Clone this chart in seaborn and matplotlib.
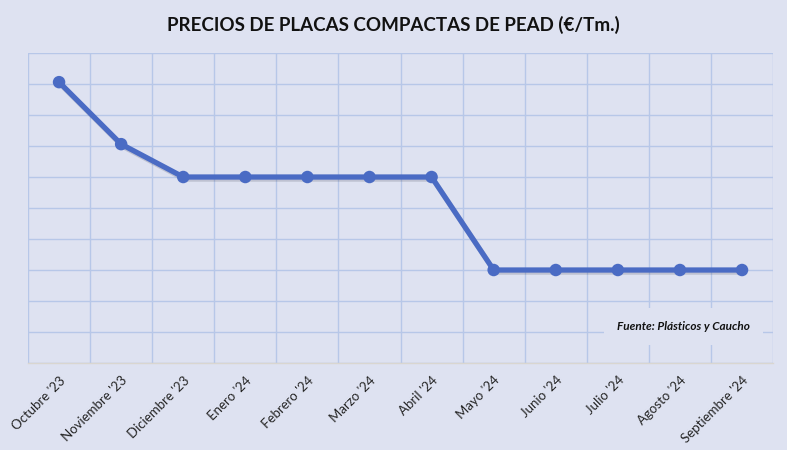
import matplotlib
matplotlib.use("Agg")
import matplotlib.pyplot as plt
import matplotlib.patheffects as pe
import numpy as np
import pandas as pd
import seaborn as sns

# data (no y labels shown, scale is estimated)
meses = ["Octubre '23", "Noviembre '23", "Diciembre '23", "Enero '24", "Febrero '24",
         "Marzo '24", "Abril '24", "Mayo '24", "Junio '24", "Julio '24",
         "Agosto '24", "Septiembre '24"]
precios = [2453, 2353, 2300, 2300, 2300, 2300, 2300, 2150, 2150, 2150, 2150, 2150]

df = pd.DataFrame({"mes": meses, "precio": precios, "pos": np.arange(len(meses))})

bg = "#dee2f1"
grid_c = "#b7c7e8"
line_c = "#4a6bc4"

sns.set_style("white")
plt.rcParams["font.family"] = ["Lato", "DejaVu Sans"]

fig = plt.figure(figsize=(7.87, 4.5), dpi=100, facecolor=bg)
ax = fig.add_axes([0.0356, 0.1933, 0.9467, 0.6889])
ax.set_facecolor(bg)

sns.lineplot(data=df, x="pos", y="precio", ax=ax, color=line_c, linewidth=3.8,
             marker="o", markersize=9, markeredgewidth=0, zorder=3,
             path_effects=[pe.SimpleLineShadow(offset=(1, -1.5), alpha=0.18, shadow_color="#303040"),
                           pe.Normal()])

ax.set_xlim(-0.5, len(meses) - 0.5)
ax.set_ylim(2000, 2500)
ax.set_yticks(np.arange(2000, 2501, 50))
ax.set_yticklabels([])
ax.set_xticks(df["pos"])
ax.set_xticklabels(meses, rotation=45, ha="right", rotation_mode="anchor", fontsize=9.5)
ax.set_xticks(np.arange(-0.5, len(meses), 1), minor=True)
ax.tick_params(axis="both", which="both", length=0)
ax.tick_params(axis="x", which="major", pad=8)
ax.grid(axis="y", which="major", color=grid_c, linewidth=1)
ax.grid(axis="x", which="minor", color=grid_c, linewidth=1)
ax.set_axisbelow(True)
ax.set_xlabel("")
ax.set_ylabel("")
for s in ["top", "right", "left"]:
    ax.spines[s].set_visible(False)
ax.spines["bottom"].set_color("#d9d6d0")
ax.spines["bottom"].set_linewidth(1)

fig.text(0.5, 0.945, "PRECIOS DE PLACAS COMPACTAS DE PEAD (€/Tm.)", ha="center", va="center",
         fontsize=13.5, fontweight="bold", color="#111111")

ax.text(0.88, 0.119, "Fuente: Plásticos y Caucho", transform=ax.transAxes, ha="center",
        va="center", fontsize=8.5, fontweight="bold", fontstyle="italic", color="#111111",
        zorder=5, bbox=dict(facecolor=bg, edgecolor="none", boxstyle="square,pad=1.1"))

fig.savefig("out.png", dpi=100, facecolor=bg)
